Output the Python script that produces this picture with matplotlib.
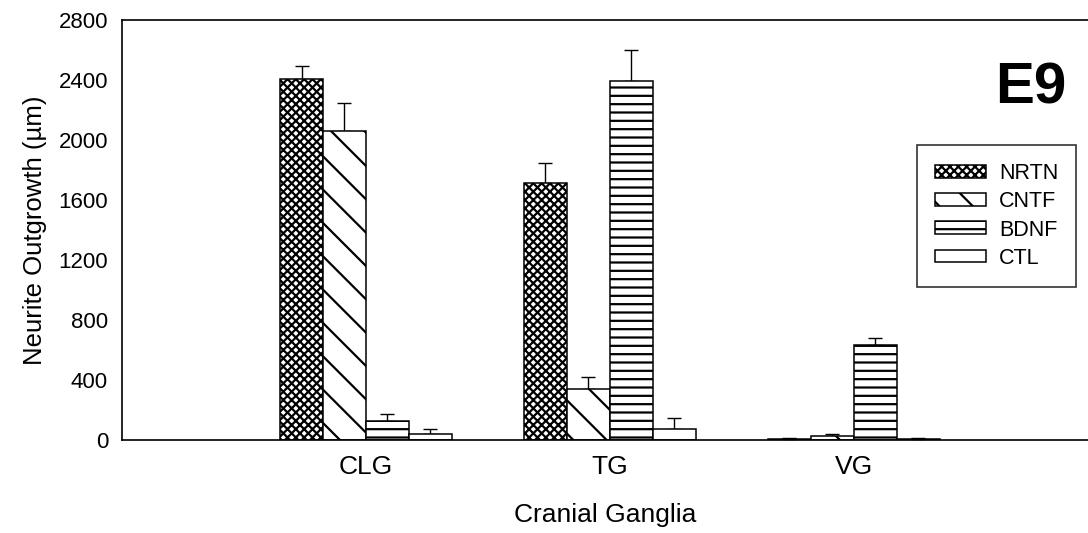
import matplotlib
matplotlib.use("Agg")
import matplotlib.pyplot as plt
import numpy as np

plt.rcParams['font.family'] = ['Liberation Sans', 'DejaVu Sans']
plt.rcParams['hatch.linewidth'] = 1.6

# data (um)
ganglia = ['CLG', 'TG', 'VG']
factors = ['NRTN', 'CNTF', 'BDNF', 'CTL']
nrtn = [2405, 1716, 9]
cntf = [2062, 342, 24]
bdnf = [129, 2396, 633]
ctl = [40, 71, 9]
nrtn_err = [90, 128, 5]
cntf_err = [183, 80, 14]
bdnf_err = [44, 204, 45]
ctl_err = [31, 74, 3]

values = [nrtn, cntf, bdnf, ctl]
errors = [nrtn_err, cntf_err, bdnf_err, ctl_err]
hatches = ['xxxx', '\\', '--', '']

fig = plt.figure(figsize=(10.88, 5.33), dpi=100)
ax = fig.add_axes([122 / 1088, 93 / 533, 1 - 122 / 1088, 420 / 533])

x = np.arange(len(ganglia))
width = 0.176
for i, (vals, errs, h, name) in enumerate(zip(values, errors, hatches, factors)):
    pos = x + (i - 1.5) * width
    ax.bar(pos, vals, width, color='white', edgecolor='black', linewidth=1.1,
           hatch=h, label=name, zorder=2)
    ax.errorbar(pos, vals, yerr=[np.zeros(len(errs)), errs], fmt='none',
                ecolor='black', elinewidth=1.0, capsize=5, capthick=1.0, zorder=1)

ax.set_xlim(-1, 2.96)
ax.set_ylim(0, 2800)
ax.set_yticks(np.arange(0, 2801, 400))
ax.set_xticks(x)
ax.set_xticklabels(ganglia, fontsize=19)
ax.tick_params(axis='both', length=0)
ax.tick_params(axis='y', labelsize=16, pad=10)
ax.tick_params(axis='x', pad=11)
ax.spines['right'].set_visible(False)
for s in ['left', 'bottom', 'top']:
    ax.spines[s].set_linewidth(1.2)

ax.set_xlabel('Cranial Ganglia', fontsize=19, labelpad=17)
ax.set_ylabel('Neurite Outgrowth (µm)', fontsize=18.5, labelpad=8)

fig.text(1031 / 1088, 1 - 88 / 533, 'E9', fontsize=42, fontweight='bold',
         ha='center', va='center')

leg = ax.legend(loc='upper left', bbox_to_anchor=(917 / 1088, 1 - 145 / 533),
                bbox_transform=fig.transFigure, fontsize=15.5, frameon=True,
                fancybox=False, edgecolor='black', handlelength=2.35,
                handleheight=0.55, handletextpad=0.6, labelspacing=0.33,
                borderpad=0.85, borderaxespad=0)
leg.get_frame().set_linewidth(1.2)

plt.savefig('out.png', dpi=100)
